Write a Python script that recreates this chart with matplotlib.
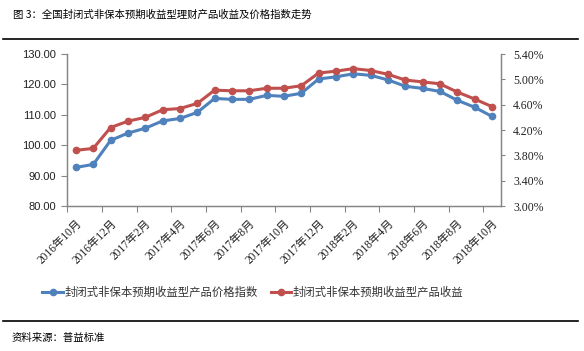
import matplotlib
matplotlib.use('Agg')
import matplotlib.pyplot as plt
from matplotlib.lines import Line2D

# 数据
months = ['2016年10月', '2016年11月', '2016年12月', '2017年1月', '2017年2月', '2017年3月',
          '2017年4月', '2017年5月', '2017年6月', '2017年7月', '2017年8月', '2017年9月',
          '2017年10月', '2017年11月', '2017年12月', '2018年1月', '2018年2月', '2018年3月',
          '2018年4月', '2018年5月', '2018年6月', '2018年7月', '2018年8月', '2018年9月',
          '2018年10月']
price_index = [92.7, 93.7, 101.6, 104.0, 105.6, 108.0, 108.8, 110.8, 115.4, 115.1, 115.1, 116.4,
               116.1, 117.1, 121.8, 122.5, 123.5, 123.0, 121.5, 119.4, 118.7, 117.7, 114.8,
               112.5, 109.5]
yield_pct = [3.88, 3.91, 4.24, 4.34, 4.40, 4.52, 4.54, 4.62, 4.83, 4.82, 4.82, 4.86,
             4.86, 4.90, 5.10, 5.13, 5.17, 5.14, 5.08, 4.99, 4.96, 4.93, 4.80, 4.69, 4.57]
left_ticks = [80, 90, 100, 110, 120, 130]
right_ticks = [3.0, 3.4, 3.8, 4.2, 4.6, 5.0, 5.4]
name_price = '封闭式非保本预期收益型产品价格指数'
name_yield = '封闭式非保本预期收益型产品收益'

cjk = ['Noto Sans CJK SC', 'DejaVu Sans']
sans = ['Liberation Sans', 'Noto Sans CJK SC']
serif = ['Liberation Serif', 'Noto Sans CJK SC']
blue = '#4F81BD'
red = '#C0504D'
gray = '#868686'

fig = plt.figure(figsize=(5.84, 3.51), dpi=100)
ax = fig.add_axes([0.1152, 0.413, 0.742, 0.433])
ax2 = ax.twinx()

x = list(range(len(months)))
ax.plot(x, price_index, color=blue, lw=2.2, marker='o', ms=4.5, zorder=3)
ax2.plot(x, yield_pct, color=red, lw=2.2, marker='o', ms=4.5, zorder=3)

ax.set_xlim(-0.5, len(months) - 0.5)
ax.set_ylim(80, 130)
ax2.set_ylim(3.0, 5.4)

# 左轴
ax.set_yticks(left_ticks)
ax.set_yticklabels([f'{v:.2f}' for v in left_ticks], family=sans, fontsize=8, color='#222222')
ax.tick_params(axis='y', direction='out', length=4, width=0.8, color=gray, pad=4)

# 右轴
ax2.set_yticks(right_ticks)
ax2.set_yticklabels([f'{v:.2f}%' for v in right_ticks], family=serif, fontsize=8.5, color='#222222')
ax2.tick_params(axis='y', direction='out', length=3, width=0.8, color=gray, pad=6)

# x轴：刻度线在类别边界，标签每隔两个月
ax.set_xticks([i - 0.5 for i in range(0, len(months), 2)])
ax.set_xticklabels([])
ax.tick_params(axis='x', which='major', direction='out', length=4, width=0.8, color=gray)
ax.set_xticks(x[::2], minor=True)
ax.set_xticklabels(months[::2], minor=True, rotation=45, ha='right',
                   rotation_mode='anchor', family=serif, fontsize=8.3, color='#222222')
ax.tick_params(axis='x', which='minor', length=0, pad=8)

for a in (ax, ax2):
    a.spines['top'].set_visible(False)
    for s in ('left', 'right', 'bottom'):
        a.spines[s].set_color(gray)
        a.spines[s].set_linewidth(0.9)

# 图例
handles = [Line2D([], [], color=blue, lw=2.2, marker='o', ms=4.5),
           Line2D([], [], color=red, lw=2.2, marker='o', ms=4.5)]
fig.legend(handles, [name_price, name_yield], loc='center', bbox_to_anchor=(0.433, 0.168),
           ncol=2, frameon=False, prop={'family': cjk, 'size': 8.2}, handlelength=1.8,
           handletextpad=0.15, columnspacing=1.1, labelcolor='#333333')

# 标题与来源
fig.text(0.022, 0.957, '图 3：全国封闭式非保本预期收益型理财产品收益及价格指数走势',
         family=cjk, fontsize=7.5, va='center', ha='left')
fig.add_artist(Line2D([0.005, 0.99], [0.888, 0.888], color='black', lw=1.2))
fig.add_artist(Line2D([0.005, 0.99], [0.085, 0.085], color='black', lw=1.2))
fig.text(0.02, 0.037, '资料来源：普益标准', family=cjk, fontsize=7.5, va='center', ha='left')

fig.savefig('out.png', dpi=100)
